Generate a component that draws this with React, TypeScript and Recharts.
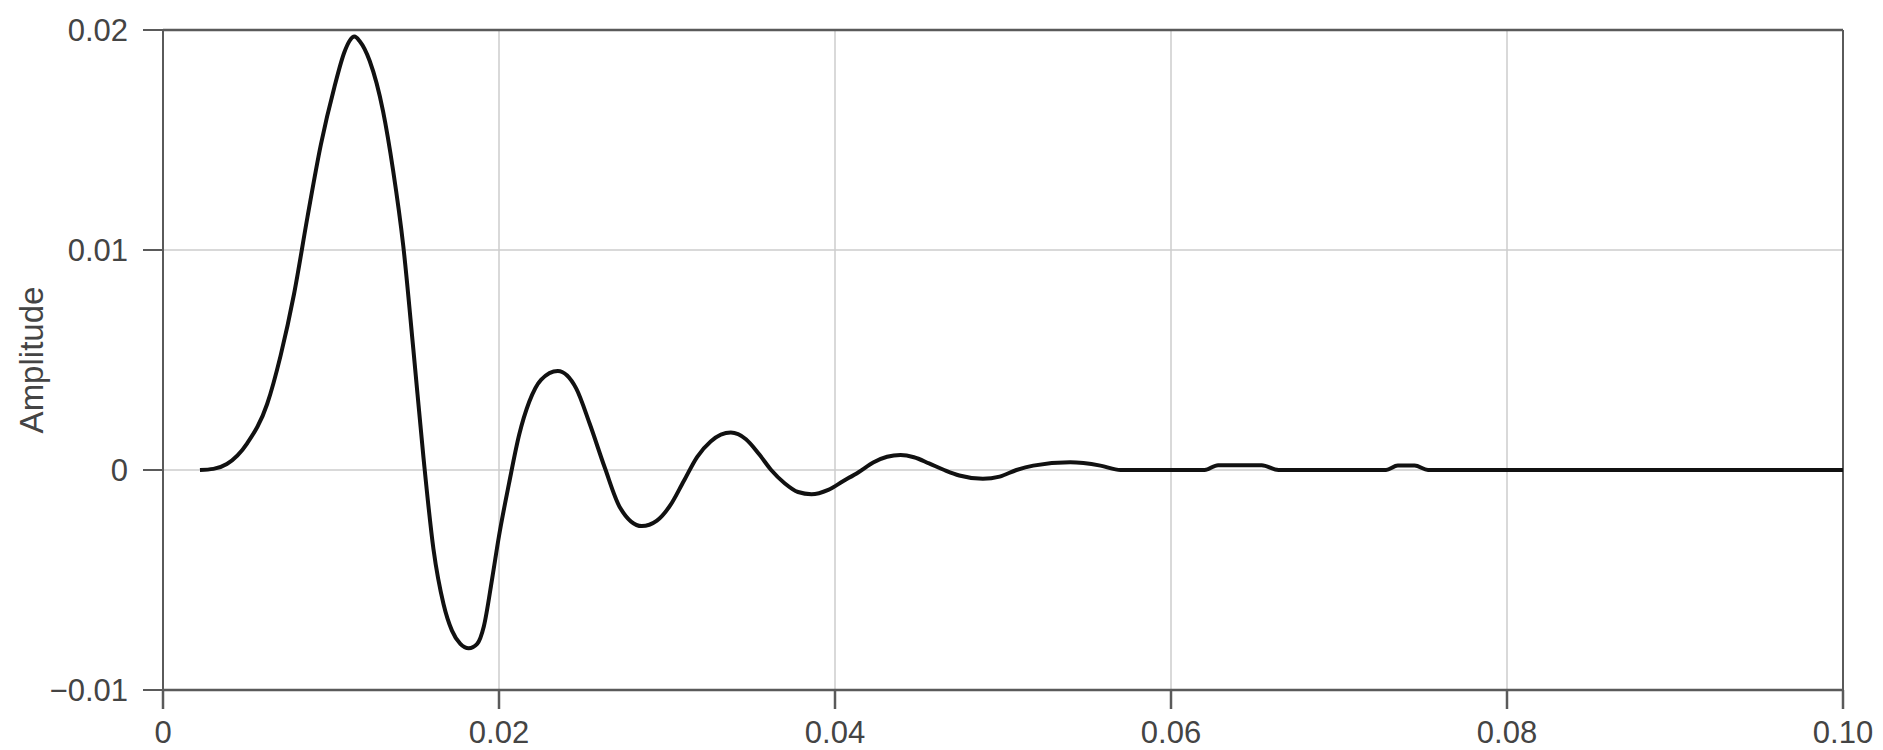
import React from 'react';
import { LineChart, Line, XAxis, YAxis, CartesianGrid, ReferenceLine, Label } from 'recharts';

// impulse response samples: time (s) and amplitude
const time = [
  0.0022, 0.003, 0.0038, 0.005, 0.0062, 0.007, 0.0078, 0.0086, 0.0094, 0.0102,
  0.0108, 0.0111, 0.0114, 0.0117, 0.0123, 0.0131, 0.0137, 0.0143, 0.0149, 0.0155,
  0.0161, 0.0167, 0.0172, 0.0177, 0.0182, 0.0187, 0.0191, 0.0196, 0.02, 0.0206,
  0.0212, 0.0218, 0.0225, 0.0235, 0.0246, 0.0254, 0.0263, 0.0272, 0.0285, 0.0294,
  0.0302, 0.031, 0.0318, 0.0326, 0.0338, 0.0347, 0.0355, 0.0362, 0.037, 0.0378,
  0.0386, 0.0396, 0.0405, 0.0414, 0.0423, 0.0431, 0.0439, 0.0447, 0.0456, 0.0465,
  0.0474, 0.0488, 0.0498, 0.0508, 0.0518, 0.054, 0.0558, 0.057, 0.062, 0.0628,
  0.0654, 0.0664, 0.0728, 0.0735, 0.0745, 0.0753, 0.1,
];
const amplitude = [
  0, 0.00005, 0.00027, 0.0012, 0.003, 0.0052, 0.008, 0.0115, 0.0148, 0.0174,
  0.019, 0.0195, 0.0197, 0.0195, 0.0186, 0.0163, 0.0136, 0.0102, 0.0055, 0.0006,
  -0.0036, -0.0061, -0.0073, -0.0079, -0.0081, -0.0079, -0.0071, -0.0049, -0.003, -0.0006,
  0.0016, 0.0031, 0.0041, 0.0045, 0.0037, 0.0021, 0.0001, -0.0017, -0.00255, -0.0023,
  -0.0016, -0.0005, 0.0006, 0.0013, 0.0017, 0.0014, 0.0007, 0, -0.0006, -0.001,
  -0.0011, -0.0009, -0.0005, -0.0001, 0.00035, 0.0006, 0.00068, 0.00058, 0.0003, 0,
  -0.00025, -0.0004, -0.0003, 0, 0.0002, 0.00035, 0.0002, 0, 0, 0.00022,
  0.00022, 0, 0, 0.0002, 0.0002, 0, 0,
];

const xTicks = [0, 0.02, 0.04, 0.06, 0.08, 0.1];
const xTickLabels = ['0', '0.02', '0.04', '0.06', '0.08', '0.10'];
const yTicks = [-0.01, 0, 0.01, 0.02];
const yTickLabels = ['\u22120.01', '0', '0.01', '0.02'];

const data = time.map((t, i) => ({ t, a: amplitude[i] }));

const FONT = '"Liberation Sans", Arial, Helvetica, sans-serif';
const tickStyle = { fontSize: 31, fill: '#444', fontFamily: FONT };
const axisColor = '#5a5a5a';

function AmplitudeLabel({ viewBox }: any) {
  const x = viewBox.x + 31;
  const y = viewBox.y + viewBox.height / 2;
  return (
    <text
      x={x}
      y={y}
      transform={`rotate(-90, ${x}, ${y})`}
      textAnchor="middle"
      dominantBaseline="central"
      fontSize={33}
      fill="#444"
      fontFamily={FONT}
    >
      Amplitude
    </text>
  );
}

export default function App() {
  return (
    <div style={{ position: 'absolute', left: 0, top: 0, background: '#fff' }}>
      <LineChart width={1883} height={750} data={data} margin={{ top: 30, right: 40, left: 0, bottom: 0 }}>
        <CartesianGrid stroke="#cccccc" strokeWidth={1.5} />
        <XAxis
          dataKey="t"
          type="number"
          domain={[0, 0.1]}
          ticks={xTicks}
          tickFormatter={(v: number) => xTickLabels[xTicks.indexOf(v)] ?? String(v)}
          tick={tickStyle}
          tickSize={19}
          tickMargin={12}
          height={60}
          stroke={axisColor}
          strokeWidth={2.5}
          interval={0}
        />
        <YAxis
          type="number"
          domain={[-0.01, 0.02]}
          ticks={yTicks}
          tickFormatter={(v: number) => yTickLabels[yTicks.indexOf(v)] ?? String(v)}
          tick={tickStyle}
          tickSize={20}
          tickMargin={15}
          width={163}
          stroke={axisColor}
          strokeWidth={2}
          interval={0}
        >
          <Label content={<AmplitudeLabel />} />
        </YAxis>
        <ReferenceLine y={0.02} stroke={axisColor} strokeWidth={2.5} />
        <ReferenceLine x={0.1} stroke={axisColor} strokeWidth={2} />
        <Line
          type="monotone"
          dataKey="a"
          stroke="#111"
          strokeWidth={4}
          dot={false}
          isAnimationActive={false}
        />
      </LineChart>
    </div>
  );
}
